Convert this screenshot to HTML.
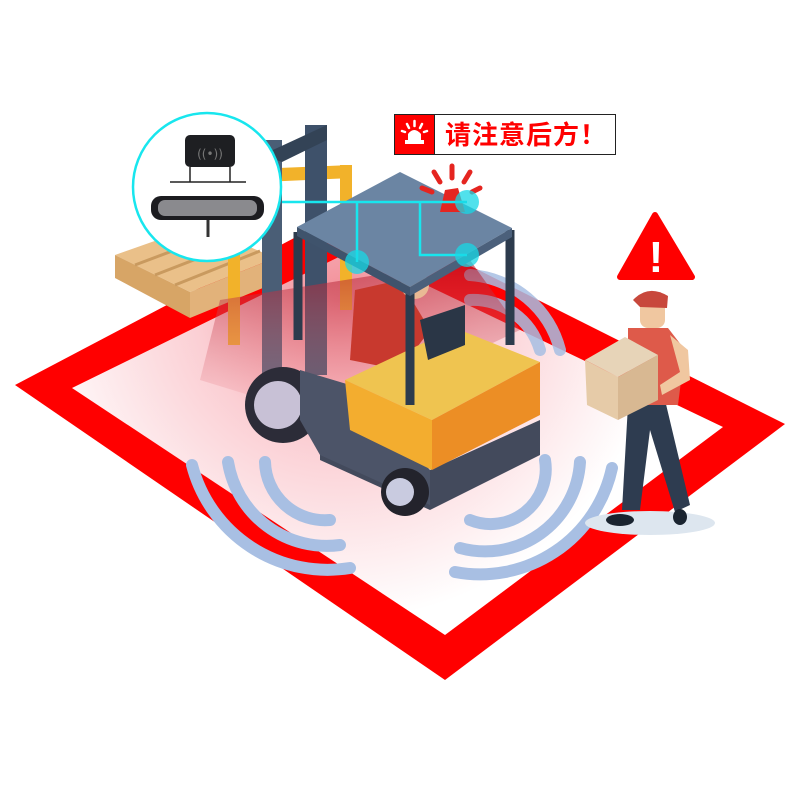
<!DOCTYPE html>
<html><head><meta charset="utf-8"><style>
html,body{margin:0;padding:0;background:#fff;width:800px;height:800px;overflow:hidden}
svg{display:block}
</style></head><body>
<svg width="800" height="800" viewBox="0 0 800 800" xmlns="http://www.w3.org/2000/svg">
<defs>
<radialGradient id="pk" cx="340" cy="300" r="320" gradientUnits="userSpaceOnUse">
<stop offset="0" stop-color="#f28d97"/><stop offset="0.45" stop-color="#fbcfd4"/><stop offset="1" stop-color="#ffffff"/>
</radialGradient>
<linearGradient id="beam" x1="0" y1="0" x2="0" y2="1">
<stop offset="0" stop-color="#b0182a" stop-opacity="0.75"/><stop offset="1" stop-color="#f7a0a8" stop-opacity="0.2"/>
</linearGradient>
</defs>
<polygon points="15,385 353,207 785,424 445,680" fill="#ff0000"/>
<polygon points="72,388 353,250 723,427 445,635" fill="url(#pk)"/>
<!-- pallet -->
<polygon points="115,255 200,225 275,258 190,292" fill="#eac089"/>
<polygon points="115,255 190,292 190,318 115,278" fill="#d7a566"/>
<polygon points="190,292 275,258 275,283 190,318" fill="#e2b27a"/>
<g stroke="#c99a5f" stroke-width="3"><line x1="135" y1="265" x2="220" y2="233"/><line x1="155" y1="275" x2="240" y2="242"/><line x1="175" y1="285" x2="260" y2="251"/></g>
<!-- mast -->
<rect x="228" y="170" width="12" height="175" fill="#f2b22a"/>
<rect x="340" y="165" width="12" height="145" fill="#f2b22a"/>
<polygon points="228,170 352,165 352,178 240,183" fill="#f2b22a"/>
<rect x="262" y="140" width="20" height="240" fill="#4a5e76"/>
<rect x="305" y="125" width="22" height="250" fill="#3e516a"/>
<polygon points="262,155 327,125 327,140 282,162" fill="#334356"/>
<g fill="none" stroke="#a8bfe3" stroke-width="12" stroke-linecap="round" opacity="0.85">
<path d="M470,300 A70,70 0 0 1 540,350"/>
<path d="M470,275 A100,100 0 0 1 560,350"/>
</g>
<polygon points="220,300 470,260 520,330 330,420 200,380" fill="url(#beam)" opacity="0.8"/>
<polygon points="355,290 400,280 430,330 400,370 350,360" fill="#c8392e"/>
<circle cx="415" cy="285" r="14" fill="#e9b994"/>
<polygon points="320,410 430,470 540,420 540,455 430,510 320,460" fill="#434a5c"/>
<circle cx="283" cy="405" r="38" fill="#2c2c38"/>
<circle cx="278" cy="405" r="24" fill="#c8c1d6"/>
<polygon points="300,370 350,385 430,470 430,505 320,455 300,420" fill="#4c5468"/>
<polygon points="345,380 455,328 540,362 432,420" fill="#efc450"/>
<polygon points="345,380 432,420 432,470 350,430" fill="#f3ad2f"/>
<polygon points="432,420 540,362 540,415 432,470" fill="#ec8e25"/>
<polygon points="420,320 465,305 465,345 428,360" fill="#2a3646"/>
<circle cx="405" cy="492" r="24" fill="#23232c"/>
<circle cx="400" cy="492" r="14" fill="#c9cbe0"/>
<g stroke="#2c3b4d" stroke-width="9" fill="none">
<line x1="298" y1="232" x2="298" y2="340"/>
<line x1="410" y1="287" x2="410" y2="405"/>
<line x1="510" y1="230" x2="510" y2="345"/>
</g>
<polygon points="297,227 400,172 512,228 410,287" fill="#6b85a3"/>
<polygon points="297,227 410,287 410,296 297,236" fill="#3f536c"/>
<polygon points="410,287 512,228 512,237 410,296" fill="#4b607b"/>
<path d="M440,212 L445,190 L458,188 L465,212 Z" fill="#e52520"/>
<g stroke="#e52520" stroke-width="5" stroke-linecap="round">
<line x1="452" y1="178" x2="452" y2="166"/><line x1="440" y1="182" x2="434" y2="172"/><line x1="464" y1="182" x2="470" y2="172"/><line x1="432" y1="192" x2="422" y2="188"/><line x1="472" y1="192" x2="480" y2="188"/>
</g>
<g stroke="#18e6ee" stroke-width="2.5" fill="none">
<polyline points="282,202 467,202"/><polyline points="357,202 357,262"/><polyline points="420,202 420,255 467,255"/>
</g>
<g fill="#18d8e6" opacity="0.75"><circle cx="357" cy="262" r="12"/><circle cx="467" cy="202" r="12"/><circle cx="467" cy="255" r="12"/></g>
<circle cx="207" cy="187" r="74" fill="#fff" stroke="#18e6ee" stroke-width="2.5"/>
<rect x="185" y="135" width="50" height="32" rx="5" fill="#1e1f22"/>
<text x="210" y="158" font-family="DejaVu Sans,sans-serif" font-size="12" fill="#777" text-anchor="middle">((•))</text>
<line x1="170" y1="182" x2="246" y2="182" stroke="#222" stroke-width="1.5"/>
<line x1="190" y1="167" x2="190" y2="182" stroke="#222" stroke-width="1.5"/><line x1="230" y1="167" x2="230" y2="182" stroke="#222" stroke-width="1.5"/>
<rect x="151" y="196" width="113" height="24" rx="10" fill="#1c1c20"/>
<rect x="158" y="200" width="99" height="16" rx="7" fill="#8a8a8e"/>
<line x1="208" y1="220" x2="208" y2="237" stroke="#333" stroke-width="3"/>
<g fill="none" stroke="#a8bfe3" stroke-width="12" stroke-linecap="round">
<path d="M265,462 A60,60 0 0 0 330,520"/>
<path d="M228,462 A100,100 0 0 0 340,545"/>
<path d="M192,465 A140,140 0 0 0 350,568"/>
<path d="M545,460 A55,55 0 0 1 470,520"/>
<path d="M580,462 A95,95 0 0 1 460,548"/>
<path d="M612,468 A135,135 0 0 1 455,572"/>
</g>
<ellipse cx="650" cy="523" rx="65" ry="12" fill="#dde6ef"/>
<polygon points="628,405 665,400 690,505 675,512 650,430 640,510 622,510" fill="#2e3c50"/>
<ellipse cx="620" cy="520" rx="14" ry="6" fill="#1a2430"/>
<ellipse cx="680" cy="517" rx="7" ry="8" fill="#1a2430"/>
<polygon points="628,328 668,328 685,350 678,405 628,405" fill="#de5a4a"/>
<polygon points="670,335 688,350 690,380 662,395 660,385 680,372" fill="#f0c7a0"/>
<rect x="640" y="300" width="25" height="28" rx="8" fill="#f0c7a0"/>
<path d="M633,300 Q648,284 668,296 L667,308 L640,307 Z" fill="#c8483c"/>
<polygon points="585,360 625,337 658,355 618,377" fill="#e7d4b8"/>
<polygon points="585,360 618,377 618,420 587,405" fill="#e6cba8"/>
<polygon points="618,377 658,355 658,400 618,420" fill="#d8b892"/>
<path d="M655,215 L692,277 L620,277 Z" fill="#ff0000" stroke="#ff0000" stroke-width="6" stroke-linejoin="round"/>
<text x="656" y="272" font-family="Liberation Sans,sans-serif" font-weight="bold" font-size="44" fill="#fff" text-anchor="middle">!</text>
<rect x="394.5" y="114.5" width="221" height="40" fill="#fff" stroke="#222" stroke-width="1"/>
<rect x="394.5" y="114.5" width="40" height="40" fill="#ff0000" stroke="#222" stroke-width="1"/>
<path d="M405,144 L405,140 L408,140 L408,134 Q414,126 421,134 L421,140 L424,140 L424,144 Z" fill="#fff"/>
<g stroke="#fff" stroke-width="2.5" stroke-linecap="round"><line x1="414.5" y1="121" x2="414.5" y2="126"/><line x1="407" y1="124" x2="409" y2="128"/><line x1="422" y1="124" x2="420" y2="128"/><line x1="402" y1="131" x2="405" y2="132"/><line x1="427" y1="131" x2="424" y2="132"/></g>
<text x="445" y="144" font-family="'Noto Sans CJK SC',sans-serif" font-weight="bold" font-size="26" letter-spacing="1" fill="#ff0000">请注意后方！</text>
</svg>
</body></html>
